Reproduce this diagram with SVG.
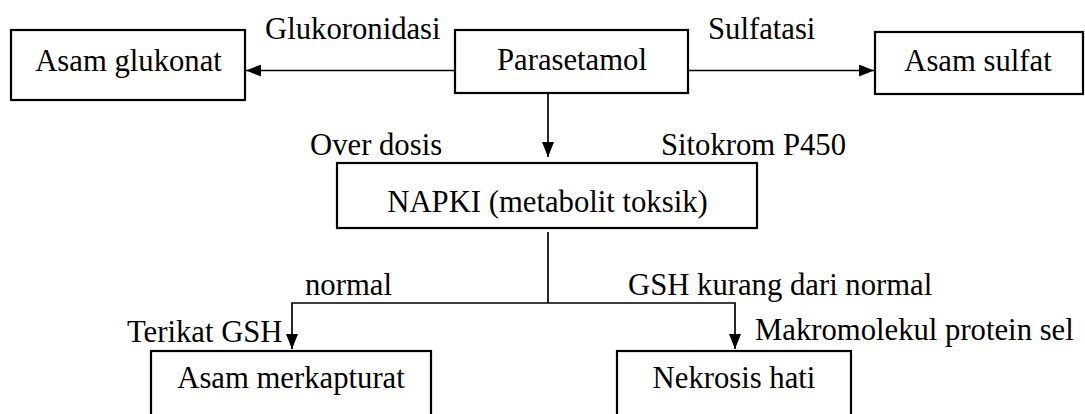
<svg xmlns="http://www.w3.org/2000/svg" width="1085" height="414" viewBox="0 0 1085 414">
<style>
  .box { fill: #ffffff; stroke: #000000; stroke-width: 2.2; }
  .line { fill: none; stroke: #000000; stroke-width: 1.7; }
  text { font-family: "Liberation Serif", "Times New Roman", serif; font-size: 30.7px; fill: #000000; }
  .c { text-anchor: middle; }
</style>
<defs>
  <marker id="arrow" viewBox="0 0 15 12" refX="15" refY="6" markerWidth="15" markerHeight="12" markerUnits="userSpaceOnUse" orient="auto">
    <path d="M0,0 L15,6 L0,12 Z" fill="#000000"/>
  </marker>
</defs>
<rect width="1085" height="414" fill="#ffffff"/>

<g id="connectors">
  <line class="line" x1="455" y1="70.5" x2="246" y2="70.5" marker-end="url(#arrow)"/>
  <line class="line" x1="688" y1="70.5" x2="874" y2="70.5" marker-end="url(#arrow)"/>
  <line class="line" x1="548" y1="93" x2="548" y2="157" marker-end="url(#arrow)"/>
  <polyline class="line" points="548,232 548,303"/>
  <polyline class="line" points="548,303 292,303 292,349" marker-end="url(#arrow)"/>
  <polyline class="line" points="548,303 735,303 735,349" marker-end="url(#arrow)"/>
  <text x="265" y="39">Glukoronidasi</text>
  <text x="708" y="39">Sulfatasi</text>
  <text x="310" y="155">Over dosis</text>
  <text x="661" y="155">Sitokrom P450</text>
  <text x="305" y="295">normal</text>
  <text x="628" y="295">GSH kurang dari normal</text>
  <text x="127" y="342">Terikat GSH</text>
  <text x="755" y="340">Makromolekul protein sel</text>
</g>

<g id="asam-glukonat">
  <rect class="box" x="11" y="30" width="234" height="70"/>
  <text class="c" x="128.5" y="71">Asam glukonat</text>
</g>

<g id="parasetamol">
  <rect class="box" x="455" y="30" width="233" height="63"/>
  <text class="c" x="572" y="70">Parasetamol</text>
</g>

<g id="asam-sulfat">
  <rect class="box" x="875" y="32" width="208" height="62"/>
  <text class="c" x="978" y="71">Asam sulfat</text>
</g>

<g id="napki">
  <rect class="box" x="337" y="163" width="420" height="65"/>
  <text class="c" x="547.5" y="212">NAPKI (metabolit toksik)</text>
</g>

<g id="asam-merkapturat">
  <rect class="box" x="151" y="351" width="280" height="80"/>
  <text class="c" x="291" y="388">Asam merkapturat</text>
</g>

<g id="nekrosis-hati">
  <rect class="box" x="617" y="351" width="234" height="80"/>
  <text class="c" x="734" y="388">Nekrosis hati</text>
</g>
</svg>
